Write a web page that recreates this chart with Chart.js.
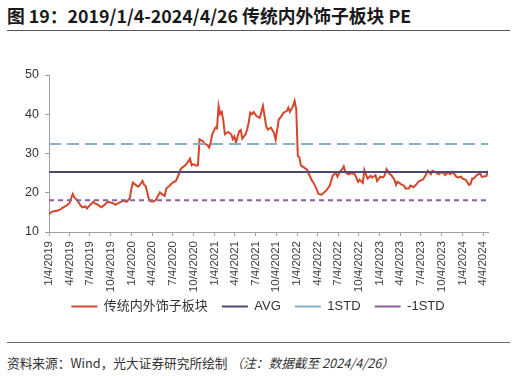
<!DOCTYPE html>
<html><head><meta charset="utf-8">
<script src="https://cdn.jsdelivr.net/npm/chart.js@4.4.1/dist/chart.umd.min.js"></script>
<style>
body{margin:0;width:516px;height:376px;background:#fff;position:relative;overflow:hidden;font-family:"Noto Sans CJK SC",sans-serif;}
#title{position:absolute;left:7px;top:2px;font-size:17.8px;font-weight:bold;color:#1a1a1a;white-space:nowrap;line-height:26px;}
#hr1{position:absolute;left:7px;top:30px;width:503px;height:0;border-top:1.5px solid #555;}
#wrap{position:absolute;left:0;top:36px;width:516px;height:298px;}
#hr2{position:absolute;left:7px;top:342px;width:503px;height:0;border-top:1px solid #666;}
#src{position:absolute;left:7px;top:354px;font-size:12.7px;color:#333;white-space:nowrap;line-height:18px;}
#src i{font-style:italic;}
</style></head>
<body>
<div id="title">图 19：2019/1/4-2024/4/26 传统内外饰子板块 PE</div>
<div id="hr1"></div>
<div id="wrap"><canvas id="c" width="516" height="298"></canvas></div>
<div id="hr2"></div>
<div id="src">资料来源：Wind，光大证券研究所绘制 <i>（注：数据截至 2024/4/26）</i></div>
<script>
// weeks since 2019-01-04 for each observation
const weeks = [0,2,5,7,9,11,13,14,15,16,18,20,21,23,24,26,28,29,31,33,35,37,40,42,44,46,47,49,51,52,53,54,56,57,59,60,61,63,64,65,67,68,70,71,73,74,76,78,80,82,83,84,86,87,89,90,91,93,94,95,97,98,100,101,102,103,105,106,107,108,109,110,111,113,115,116,117,118,120,121,122,124,125,126,127,128,129,131,133,135,137,138,140,142,143,145,146,148,150,151,152,154,155,156,157,158,159,161,163,164,166,167,169,170,172,173,175,177,178,179,181,182,184,185,186,187,189,191,193,195,196,198,199,201,203,204,206,207,209,211,212,213,215,216,218,219,220,222,224,225,227,228,230,232,233,234,236,238,239,241,242,244,246,247,249,250,252,253,255,257,258,260,261,263,265,266,267,268,270,272,273,274,276,277];
const peValues = [14.6,15.2,15.4,15.7,16.3,16.7,17.4,18.6,19.7,18.8,18.0,16.7,16.3,16.5,16.0,16.9,17.7,17.3,16.9,16.3,16.9,17.7,17.4,16.9,17.4,17.8,18.0,17.7,18.6,21.1,22.6,22.2,21.6,21.8,23.0,22.0,21.7,18.4,17.9,17.7,18.0,18.6,20.1,19.7,19.2,21.1,21.8,22.6,23.0,24.7,26.0,26.4,27.0,27.5,28.7,27.0,27.3,26.9,27.0,33.6,33.2,32.6,32.1,31.5,32.8,34.9,36.6,36.4,42.1,40.0,40.6,38.3,34.9,35.5,34.9,33.6,34.3,32.8,35.7,36.0,33.8,34.9,36.1,37.9,40.4,40.0,40.6,39.5,39.1,42.1,37.0,36.1,36.6,35.2,33.5,38.7,39.1,40.4,40.8,41.7,40.6,42.1,43.4,41.3,29.4,29.0,26.9,26.4,25.8,24.7,23.0,22.5,20.8,19.7,19.5,19.9,20.6,21.7,23.0,24.3,25.2,24.1,25.6,26.0,26.7,25.2,24.7,25.0,24.7,22.8,23.3,22.5,25.8,23.6,24.3,23.9,24.5,23.0,24.1,23.9,24.7,26.0,24.7,24.5,23.3,22.0,22.8,22.2,21.8,21.1,21.1,21.8,21.4,22.2,22.8,23.0,23.4,24.7,25.6,24.7,25.6,25.2,24.7,25.2,25.0,24.5,25.2,24.7,25.2,24.1,23.9,24.1,23.6,23.3,22.0,22.2,23.6,23.6,24.5,25.0,24.1,24.1,24.3,25.6];
const avgValue = 25.3;
const upperValue = 32.4;
const lowerValue = 18.1;
const seriesNames = ['传统内外饰子板块','AVG','1STD','-1STD'];
const tickLabels = ["1/4/2019","4/4/2019","7/4/2019","10/4/2019","1/4/2020","4/4/2020","7/4/2020","10/4/2020","1/4/2021","4/4/2021","7/4/2021","10/4/2021","1/4/2022","4/4/2022","7/4/2022","10/4/2022","1/4/2023","4/4/2023","7/4/2023","10/4/2023","1/4/2024","4/4/2024"];
const yTicks = [10,20,30,40,50];

const startDate = Date.UTC(2019,0,4);
const DAY = 86400000;
const toDay = s => { const p = s.split('/').map(Number); return (Date.UTC(p[2],p[0]-1,p[1]) - startDate)/DAY; };
const tickDays = tickLabels.map(toDay);
const pts = weeks.map((w,i)=>({x:w*7, y:peValues[i]}));
const xEnd = weeks[weeks.length-1]*7;
const flat = v => [{x:0,y:v},{x:xEnd,y:v}];

const legendLift = {
  id:'legendLift',
  afterLayout(chart){ const L = chart.legend; if (L){ L.top -= 6; L.bottom -= 6; } }
};

const axisColor = '#A0A0A0';
new Chart(document.getElementById('c'), {
  type:'line',
  data:{datasets:[
    {label:seriesNames[0], data:pts, borderColor:'#D5462B', backgroundColor:'#D5462B', borderWidth:2, pointRadius:0, pointStyle:'line', order:1, tension:0},
    {label:seriesNames[1], data:flat(avgValue), borderColor:'#4D4977', backgroundColor:'#4D4977', borderWidth:2, pointRadius:0, pointStyle:'line', order:0},
    {label:seriesNames[2], data:flat(upperValue), borderColor:'#82B3CB', backgroundColor:'#82B3CB', borderWidth:2, borderDash:[12,6], pointRadius:0, pointStyle:'line', order:0},
    {label:seriesNames[3], data:flat(lowerValue), borderColor:'#8C5E9F', backgroundColor:'#8C5E9F', borderWidth:2, borderDash:[5,4], pointRadius:0, pointStyle:'line', order:0}
  ]},
  options:{
    responsive:false, animation:false, devicePixelRatio:1,
    layout:{padding:{left:0,right:0,top:39,bottom:5}},
    scales:{
      x:{type:'linear', min:0, max:xEnd,
        afterBuildTicks:s=>{s.ticks = tickDays.map(v=>({value:v}));},
        afterFit:s=>{s.height=60;},
        ticks:{autoSkip:false, maxRotation:90, minRotation:90, padding:5, color:'#404040',
          font:{family:'"Liberation Sans", Arial, sans-serif', size:11.5},
          callback:(v,i)=>tickLabels[i]},
        grid:{drawOnChartArea:false, drawTicks:true, tickLength:4, color:axisColor},
        border:{color:axisColor, width:1}
      },
      y:{min:10, max:50,
        afterBuildTicks:s=>{s.ticks = yTicks.map(v=>({value:v}));},
        afterFit:s=>{s.width=49;},
        ticks:{padding:6, color:'#333', font:{family:'"Liberation Sans", Arial, sans-serif', size:12.5}},
        grid:{drawOnChartArea:false, drawTicks:true, tickLength:4, color:axisColor},
        border:{color:axisColor, width:1}
      },
      yR:{type:'linear', position:'right', display:true,
        afterFit:s=>{s.width=28;},
        ticks:{display:false}, grid:{display:false}, border:{display:false}
      }
    },
    plugins:{
      tooltip:{enabled:false},
      legend:{position:'bottom', align:'center',
        labels:{usePointStyle:true, pointStyleWidth:26, boxHeight:12, padding:14, color:'#333',
          sort:(a,b)=>a.datasetIndex-b.datasetIndex,
          font:{family:'"Liberation Sans", "Noto Sans CJK SC", sans-serif', size:13}}
      }
    }
  },
  plugins:[legendLift]
});
</script>
</body></html>
